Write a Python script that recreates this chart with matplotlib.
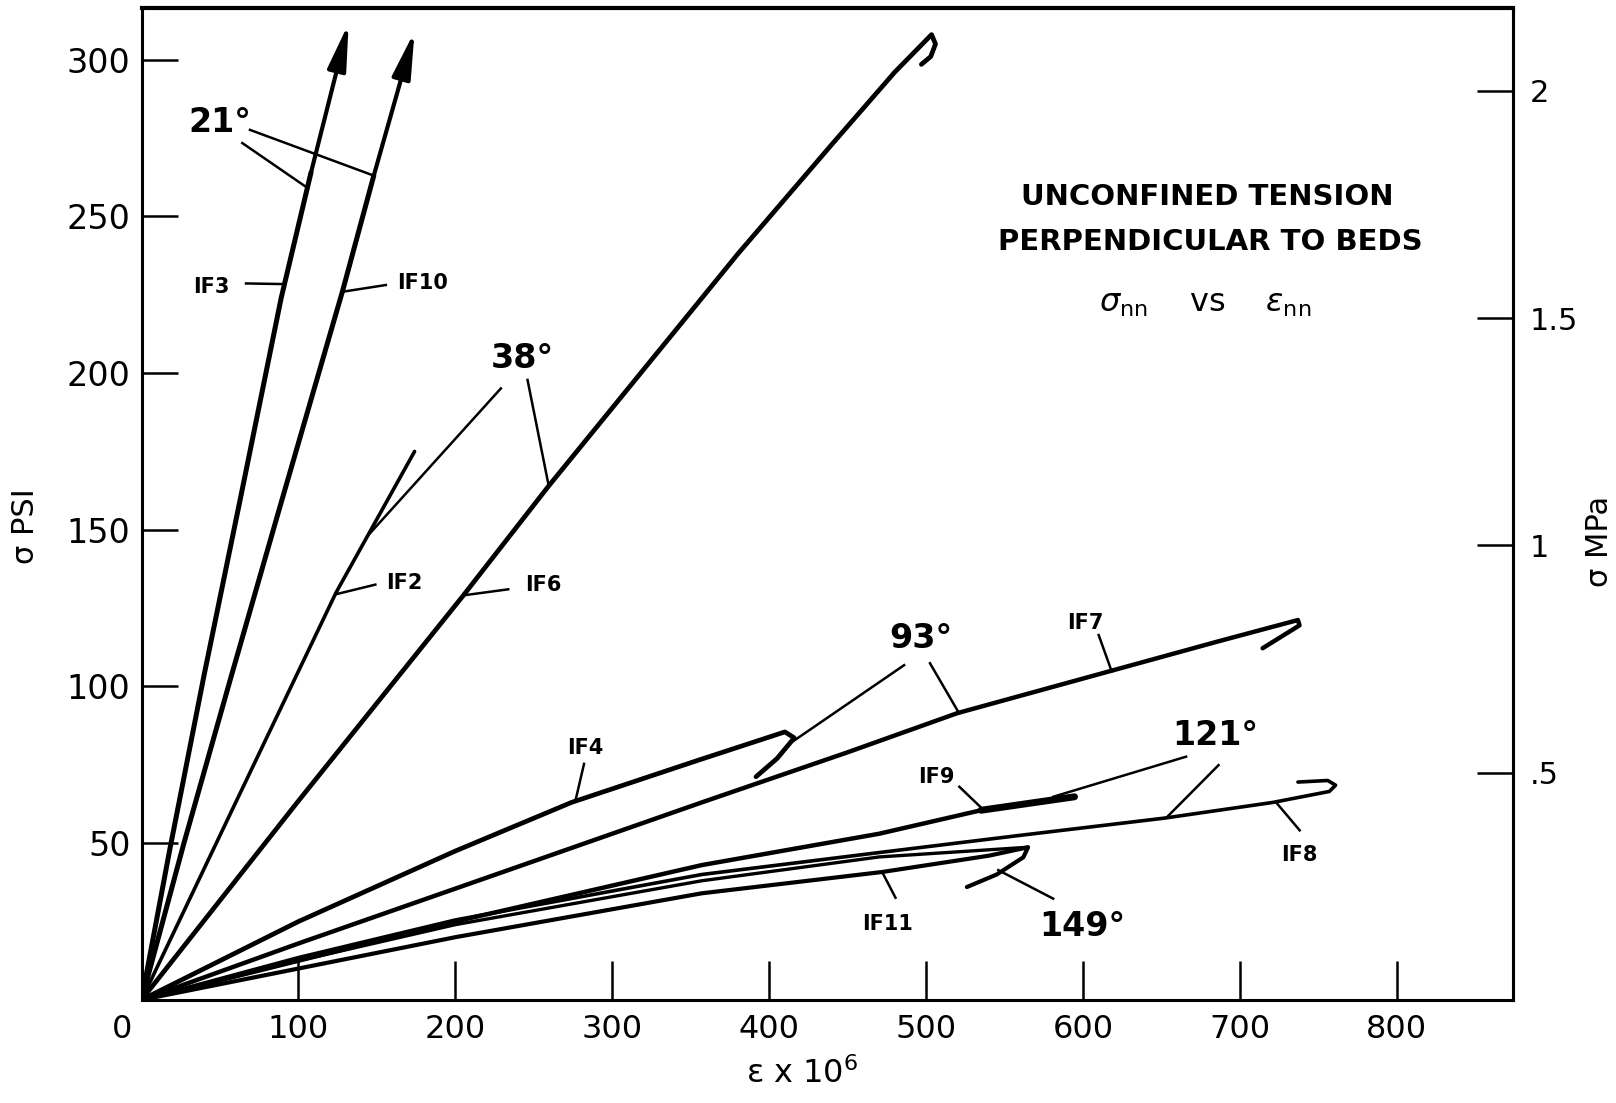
import numpy as np
import matplotlib
matplotlib.use("Agg")
import matplotlib.pyplot as plt
import matplotlib.transforms as mtransforms

# strain (x 10^6) and stress (psi)
if3_x = [0, 18, 40, 63, 89, 108, 132]
if3_y = [0, 48, 104, 160, 224, 264, 311.6]
if10_x = [0, 27, 57, 88, 128, 148, 174]
if10_y = [0, 50, 103, 157, 226, 263, 309]
if2_x = [0, 60, 124, 144, 174]
if2_y = [0, 63, 130, 148, 175]
if6_x = [0, 100, 205, 259.5, 380, 440, 480, 503.5, 506, 503, 497]
if6_y = [0, 63.5, 129, 164, 238, 273, 296, 308, 305, 301, 298.5]
if4_x = [0, 100, 200, 274, 355, 410, 416, 405, 391.6]
if4_y = [0, 25, 47.5, 63, 76.5, 85.5, 83.6, 77, 71.2]
if7_x = [0, 100, 200, 357, 450, 520, 618, 687, 737, 738, 714.5]
if7_y = [0, 18, 35.5, 63, 79, 91.5, 105, 114.5, 121.2, 119.5, 112.2]
if9_x = [0, 100, 200, 357, 470, 535, 594.6]
if9_y = [0, 12.5, 25, 43, 53, 60.5, 64.8]
if8_x = [0, 100, 200, 357, 470, 560, 652, 721, 757, 761, 756, 737]
if8_y = [0, 13.5, 25.5, 40, 47, 52.5, 58, 63, 66.5, 68.5, 70, 69.5]
if11a_x = [0, 100, 200, 357, 470, 565]
if11a_y = [0, 12.5, 24, 38, 45.6, 48.7]
if11b_x = [0, 100, 200, 357, 472, 540, 565, 562, 545, 526]
if11b_y = [0, 10, 20, 34, 40.8, 46, 48.7, 45.5, 40, 36]

x_ticks = [0, 100, 200, 300, 400, 500, 600, 700, 800]
psi_ticks = [50, 100, 150, 200, 250, 300]
mpa_ticks = [0.5, 1, 1.5, 2]
mpa_labels = [".5", "1", "1.5", "2"]

# label text, label position, font size, pointer segments
tags = [
    ("IF3", 44.7, 227.6, 15, [((66.6, 228.6), (89.9, 228.4))]),
    ("IF10", 178.8, 228.6, 15, [((155.7, 228.1), (128.8, 226))]),
    ("IF2", 167.5, 133, 15, [((149, 132.5), (124.5, 129.5))]),
    ("IF6", 255.8, 132.3, 15, [((233.7, 131), (205.5, 129.1))]),
    ("IF4", 282.8, 80.4, 15, [((282, 75.3), (276.7, 63.9))]),
    ("IF7", 601.7, 120.1, 15, [((610, 116.4), (618.3, 104.8))]),
    ("IF9", 506.6, 71.2, 15, [((521.2, 68), (535.6, 61.1))]),
    ("IF8", 738.1, 46.2, 15, [((723.6, 62.7), (738.1, 54.1))]),
    ("IF11", 475.7, 24.3, 15, [((472, 40.8), (480.5, 32.6))]),
    ("21°", 49.6, 280, 24, [((64.2, 273.4), (106, 259)),
                            ((69.1, 277.6), (148, 263))]),
    ("38°", 242.4, 204.7, 24, [((229, 195.1), (144, 148)),
                               ((246, 197.8), (259.5, 164))]),
    ("93°", 496.4, 115.2, 24, [((486, 106.8), (411.7, 81.3)),
                               ((502.5, 107.4), (521.1, 91.4))]),
    ("121°", 684.4, 84.5, 24, [((665.7, 77.6), (581, 64.8)),
                               ((686.4, 74.9), (653.3, 58.2))]),
    ("149°", 599.5, 23.3, 24, [((581, 32.3), (546, 41.4))]),
]

fig = plt.figure(figsize=(16.16, 11.03), dpi=100)
ax = fig.add_axes([0.0876, 0.0935, 0.8486, 0.899])

K = "black"
rnd = dict(solid_capstyle="round", solid_joinstyle="round")
ax.plot(if3_x[:-1], if3_y[:-1], color=K, lw=3.6, **rnd)
ax.plot(if10_x[:-1], if10_y[:-1], color=K, lw=3.6, **rnd)
for xs, ys in [(if3_x, if3_y), (if10_x, if10_y)]:
    ax.annotate("", xy=(xs[-1], ys[-1]), xytext=(xs[-2], ys[-2]),
                arrowprops=dict(arrowstyle="-|>,head_length=1.4,head_width=0.28",
                                color=K, lw=3.0, mutation_scale=20,
                                shrinkA=0, shrinkB=0))
ax.plot(if2_x, if2_y, color=K, lw=2.6, **rnd)
ax.plot(if6_x, if6_y, color=K, lw=3.4, **rnd)
ax.plot(if4_x, if4_y, color=K, lw=3.4, **rnd)
ax.plot(if7_x, if7_y, color=K, lw=3.2, **rnd)
ax.plot(if9_x, if9_y, color=K, lw=3.2, **rnd)
ax.plot(if9_x[-2:], if9_y[-2:], color=K, lw=5, **rnd)
ax.plot(if8_x, if8_y, color=K, lw=2.6, **rnd)
ax.plot(if11a_x, if11a_y, color=K, lw=2.4, **rnd)
ax.plot(if11b_x, if11b_y, color=K, lw=3.0, **rnd)

for txt, tx, ty, fs, segs in tags:
    ax.text(tx, ty, txt, fontsize=fs, fontweight="bold", ha="center", va="center")
    for (x0, y0), (x1, y1) in segs:
        ax.plot([x0, x1], [y0, y1], color=K, lw=1.8)

ax.text(0.777, 0.81, "UNCONFINED TENSION", transform=ax.transAxes,
        fontsize=21, fontweight="bold", ha="center", va="center")
ax.text(0.779, 0.7646, "PERPENDICULAR TO BEDS", transform=ax.transAxes,
        fontsize=21, fontweight="bold", ha="center", va="center")
ax.text(0.7755, 0.7027, r"$\sigma_{\rm nn}$    vs    $\varepsilon_{\rm nn}$",
        transform=ax.transAxes, fontsize=23, ha="center", va="center")

ax.set_xlim(0, 874)
ax.set_ylim(0, 316.4)
ax.set_xticks(x_ticks)
ax.set_xticklabels([str(v) for v in x_ticks])
ax.set_yticks(psi_ticks)
ax.set_yticklabels([str(v) for v in psi_ticks])
ax.tick_params(axis="x", direction="in", length=28, width=1.8, labelsize=23, pad=10)
ax.tick_params(axis="y", direction="in", length=26, width=1.8, labelsize=24, pad=8)
for s in ax.spines.values():
    s.set_linewidth(2.2)
ax.spines["top"].set_linewidth(3)

# the "0" under the origin sits a little to the left in the original
zero = ax.xaxis.get_major_ticks()[0].label1
zero.set_transform(zero.get_transform() +
                   mtransforms.ScaledTranslation(-0.19, 0, fig.dpi_scale_trans))

sec = ax.secondary_yaxis("right", functions=(lambda p: p / 145.04, lambda m: m * 145.04))
sec.set_yticks(mpa_ticks)
sec.set_yticklabels(mpa_labels)
sec.tick_params(direction="in", length=26, width=1.8, labelsize=22, pad=12)
sec.spines["right"].set_linewidth(2.2)

# axis titles
ax.text(1.063, 0.462, "σ MPa", transform=ax.transAxes, fontsize=22,
        rotation=90, ha="center", va="center")
ax.text(-0.0844, 0.478, "σ PSI", transform=ax.transAxes, fontsize=22,
        rotation=90, ha="center", va="center")
ax.text(0.4815, -0.0748, r"ε x 10$^6$", transform=ax.transAxes, fontsize=23,
        ha="center", va="center")

fig.savefig("out.png", dpi=100, facecolor="white")
